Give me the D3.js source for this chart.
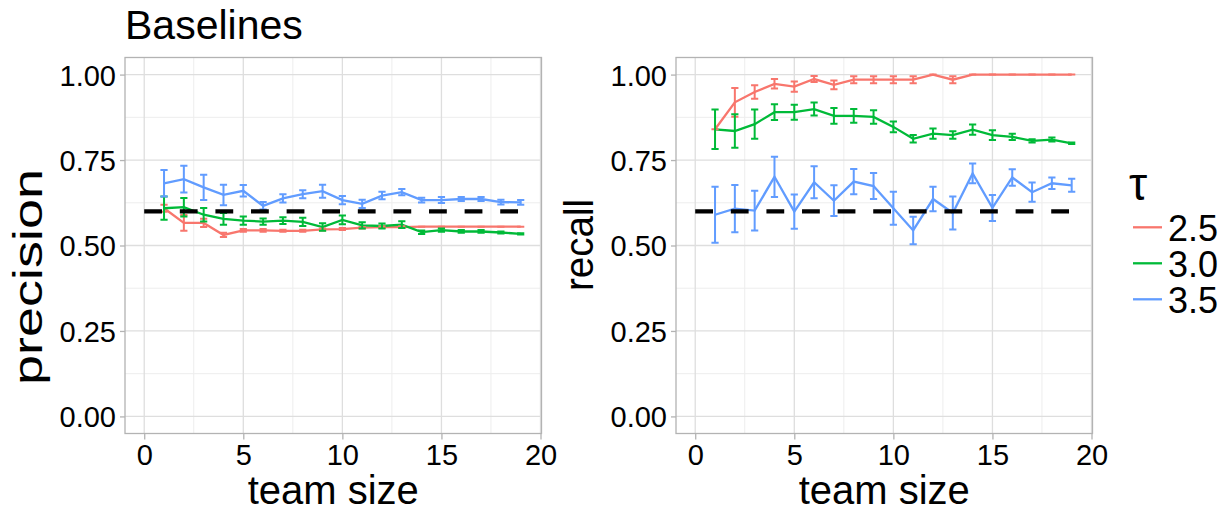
<!DOCTYPE html>
<html>
<head>
<meta charset="utf-8">
<script src="https://cdn.jsdelivr.net/npm/d3@7"></script>
<style>
  body { margin: 0; background: #fff; }
  text { font-family: "Liberation Sans", Arial, sans-serif; fill: #000; }
</style>
</head>
<body>
<div id="chart"></div>
<script>
// team sizes on the x axis
var teamSize = [1, 2, 3, 4, 5, 6, 7, 8, 9, 10, 11, 12, 13, 14, 15, 16, 17, 18, 19];
var tauLevels = ["2.5", "3.0", "3.5"];
var tauColors = ["#F8766D", "#00BA38", "#619CFF"];

// precision, mean and half-width of error bar, per tau
var precision25 = [0.609, 0.566, 0.566, 0.531, 0.544, 0.544, 0.543, 0.543, 0.547, 0.548, 0.552, 0.554, 0.554, 0.555, 0.555, 0.555, 0.555, 0.555, 0.555];
var precision25Err = [0.010, 0.023, 0.012, 0.006, 0.004, 0.004, 0.003, 0.003, 0.003, 0.003, 0.002, 0.002, 0.002, 0, 0, 0, 0, 0, 0];
var precision30 = [0.609, 0.612, 0.590, 0.578, 0.573, 0.570, 0.573, 0.569, 0.554, 0.575, 0.559, 0.557, 0.561, 0.539, 0.545, 0.541, 0.541, 0.538, 0.534];
var precision30Err = [0.034, 0.027, 0.020, 0.017, 0.012, 0.009, 0.010, 0.012, 0.011, 0.013, 0.009, 0.007, 0.010, 0.005, 0.005, 0.004, 0.004, 0.003, 0.002];
var precision35 = [0.682, 0.694, 0.670, 0.648, 0.660, 0.616, 0.638, 0.650, 0.659, 0.633, 0.622, 0.646, 0.656, 0.633, 0.633, 0.636, 0.636, 0.627, 0.626];
var precision35Err = [0.039, 0.039, 0.037, 0.030, 0.017, 0.011, 0.012, 0.012, 0.019, 0.012, 0.012, 0.011, 0.009, 0.007, 0.009, 0.006, 0.006, 0.007, 0.007];

// recall
var recall25 = [0.840, 0.919, 0.949, 0.973, 0.965, 0.987, 0.970, 0.985, 0.985, 0.985, 0.985, 1.0, 0.985, 1.0, 1.0, 1.0, 1.0, 1.0, 1.0];
var recall25Err = [0, 0.042, 0.020, 0.014, 0.015, 0.009, 0.013, 0.010, 0.010, 0.010, 0.010, 0, 0.010, 0, 0, 0, 0, 0, 0];
var recall30 = [0.840, 0.835, 0.855, 0.890, 0.890, 0.899, 0.879, 0.879, 0.876, 0.847, 0.812, 0.827, 0.823, 0.839, 0.823, 0.818, 0.806, 0.810, 0.799];
var recall30Err = [0.058, 0.049, 0.043, 0.023, 0.022, 0.019, 0.023, 0.020, 0.020, 0.016, 0.011, 0.015, 0.011, 0.015, 0.014, 0.009, 0.005, 0.006, 0.002];
var recall35 = [0.590, 0.608, 0.602, 0.701, 0.599, 0.685, 0.631, 0.687, 0.674, 0.609, 0.544, 0.636, 0.595, 0.711, 0.610, 0.699, 0.656, 0.682, 0.676];
var recall35Err = [0.082, 0.069, 0.058, 0.059, 0.050, 0.047, 0.045, 0.037, 0.038, 0.048, 0.040, 0.036, 0.048, 0.029, 0.038, 0.024, 0.028, 0.017, 0.019];

// dashed baseline
var baselineValue = 0.6;
var baselineRange = [0, 19];

var xTicks = [0, 5, 10, 15, 20];
var xMinor = [2.5, 7.5, 12.5, 17.5];
var yTicks = [0, 0.25, 0.5, 0.75, 1];
var yMinor = [0.125, 0.375, 0.625, 0.875];

var W = 1226, H = 511;
var svg = d3.select("#chart").append("svg")
  .attr("width", W)
  .attr("height", H);

var panelW = 416.5, panelT = 57.5, panelB = 433.5;

function panel(left, yLabel, labelY, labelLen, series) {
  var x = d3.scaleLinear().domain([-0.97, 20.05]).range([0, panelW]);
  var y = d3.scaleLinear().domain([-0.05, 1.05]).range([panelB - panelT, 0]);
  var h = panelB - panelT;

  var g = svg.append("g")
    .attr("transform", "translate(" + left + "," + panelT + ")");

  g.append("rect")
    .attr("width", panelW).attr("height", h)
    .attr("fill", "#fff");

  // grid
  g.selectAll(".vminor").data(xMinor).enter().append("line")
    .attr("x1", x).attr("x2", x).attr("y1", 0).attr("y2", h)
    .attr("stroke", "#ededed").attr("stroke-width", 1);
  g.selectAll(".hminor").data(yMinor).enter().append("line")
    .attr("y1", y).attr("y2", y).attr("x1", 0).attr("x2", panelW)
    .attr("stroke", "#ededed").attr("stroke-width", 1);
  g.selectAll(".vmajor").data(xTicks).enter().append("line")
    .attr("x1", x).attr("x2", x).attr("y1", 0).attr("y2", h)
    .attr("stroke", "#dedede").attr("stroke-width", 1.3);
  g.selectAll(".hmajor").data(yTicks).enter().append("line")
    .attr("y1", y).attr("y2", y).attr("x1", 0).attr("x2", panelW)
    .attr("stroke", "#dedede").attr("stroke-width", 1.3);

  var line = d3.line()
    .x(function(d) { return x(d[0]); })
    .y(function(d) { return y(d[1]); });

  // lines
  series.forEach(function(s, k) {
    g.append("path")
      .datum(teamSize.map(function(t, i) { return [t, s.mean[i]]; }))
      .attr("d", line)
      .attr("fill", "none")
      .attr("stroke", tauColors[k])
      .attr("stroke-width", 2.3);
  });

  // error bars
  var cap = 3.6;
  series.forEach(function(s, k) {
    var bars = g.append("g")
      .attr("stroke", tauColors[k])
      .attr("stroke-width", 2)
      .attr("fill", "none");
    teamSize.forEach(function(t, i) {
      var lo = y(s.mean[i] - s.err[i]), hi = y(s.mean[i] + s.err[i]), cx = x(t);
      bars.append("path")
        .attr("d", "M" + (cx - cap) + "," + hi + "H" + (cx + cap) +
                   "M" + cx + "," + hi + "V" + lo +
                   "M" + (cx - cap) + "," + lo + "H" + (cx + cap));
    });
  });

  // baseline
  g.append("line")
    .attr("x1", x(baselineRange[0])).attr("x2", x(baselineRange[1]))
    .attr("y1", y(baselineValue)).attr("y2", y(baselineValue))
    .attr("stroke", "#000")
    .attr("stroke-width", 4.2)
    .attr("stroke-dasharray", "17.8,17.8");

  // border
  g.append("rect")
    .attr("width", panelW).attr("height", h)
    .attr("fill", "none")
    .attr("stroke", "#b3b3b3")
    .attr("stroke-width", 1.3);

  // axes
  var xAxis = g.append("g")
    .attr("transform", "translate(0," + h + ")")
    .call(d3.axisBottom(x).tickValues(xTicks).tickSize(6).tickPadding(5).tickFormat(d3.format("d")));
  var yAxis = g.append("g")
    .call(d3.axisLeft(y).tickValues(yTicks).tickSize(5).tickPadding(4).tickFormat(d3.format(".2f")));
  [xAxis, yAxis].forEach(function(a) {
    a.select(".domain").remove();
    a.selectAll(".tick line").attr("stroke", "#b3b3b3").attr("stroke-width", 1.3);
    a.selectAll(".tick text")
      .attr("font-family", "Liberation Sans, Arial, sans-serif")
      .attr("font-size", 29)
      .attr("fill", "#000");
  });
  xAxis.selectAll(".tick text").attr("dy", "0.7em");
  yAxis.selectAll(".tick text").attr("dy", "0.36em");

  g.append("text")
    .attr("x", panelW / 2)
    .attr("y", 504 - panelT)
    .attr("text-anchor", "middle")
    .attr("font-size", 40)
    .text("team size");

  g.append("text")
    .attr("transform", "translate(" + (-83) + "," + (labelY - panelT) + ") rotate(-90)")
    .attr("text-anchor", "middle")
    .attr("font-size", 41)
    .attr("textLength", labelLen)
    .attr("lengthAdjust", "spacingAndGlyphs")
    .text(yLabel);
}

panel(125, "precision", 277, 216, [
  {mean: precision25, err: precision25Err},
  {mean: precision30, err: precision30Err},
  {mean: precision35, err: precision35Err}
]);
panel(676, "recall", 245, 92, [
  {mean: recall25, err: recall25Err},
  {mean: recall30, err: recall30Err},
  {mean: recall35, err: recall35Err}
]);

svg.append("text")
  .attr("x", 125)
  .attr("y", 39)
  .attr("font-size", 41)
  .text("Baselines");

// legend
var legend = svg.append("g");
legend.append("text")
  .attr("x", 1129)
  .attr("y", 200)
  .attr("font-family", "Liberation Serif, serif")
  .attr("font-size", 46)
  .text("τ");
tauLevels.forEach(function(lv, k) {
  var cy = 227.3 + k * 36;
  legend.append("line")
    .attr("x1", 1133).attr("x2", 1162)
    .attr("y1", cy).attr("y2", cy)
    .attr("stroke", tauColors[k])
    .attr("stroke-width", 2.3);
  legend.append("text")
    .attr("x", 1168)
    .attr("y", cy + 14)
    .attr("font-size", 36)
    .text(lv);
});
</script>
</body>
</html>
